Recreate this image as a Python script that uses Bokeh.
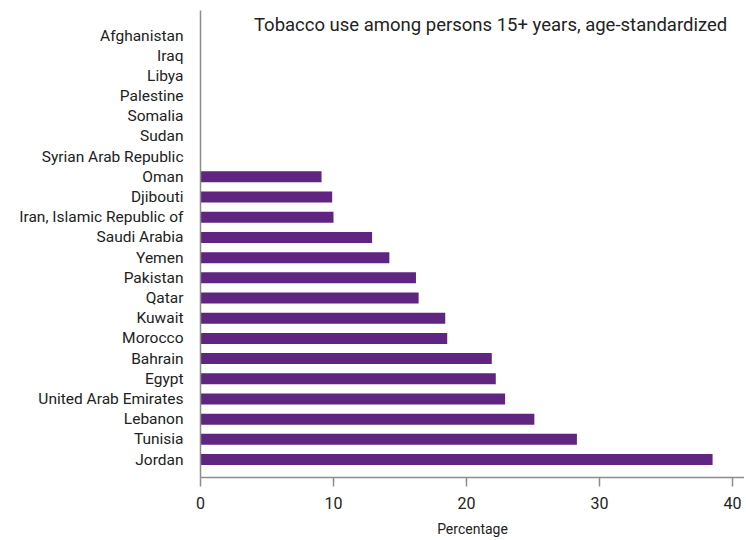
import math
from bokeh.plotting import figure
from bokeh.models import Range1d, FixedTicker, Label, ColumnDataSource
from bokeh.embed import file_html
from bokeh.resources import INLINE

countries = ["Afghanistan", "Iraq", "Libya", "Palestine", "Somalia", "Sudan",
             "Syrian Arab Republic", "Oman", "Djibouti", "Iran, Islamic Republic of",
             "Saudi Arabia", "Yemen", "Pakistan", "Qatar", "Kuwait", "Morocco",
             "Bahrain", "Egypt", "United Arab Emirates", "Lebanon", "Tunisia", "Jordan"]
values = [None, None, None, None, None, None, None,
          9.1, 9.9, 10.0, 12.9, 14.2, 16.2, 16.4, 18.4, 18.55,
          21.9, 22.2, 22.9, 25.1, 28.3, 38.5]
x_ticks = [0, 10, 20, 30, 40]
title_text = "Tobacco use among persons 15+ years, age-standardized"
x_label = "Percentage"

n = len(countries)
pos = [n - 1 - i for i in range(n)]  # top to bottom
bar_pos = [p for p, v in zip(pos, values) if v is not None]
bar_val = [v for v in values if v is not None]

FONT = "Roboto"
TEXT = "#222222"
AXIS = "#8c8c8c"
BAR = "#602580"

p = figure(width=744, height=540, output_backend="svg", toolbar_location=None,
           x_range=Range1d(0, 40.9), y_range=Range1d(-0.89, n - 1 + 1.24),
           min_border_left=200, min_border_right=0, min_border_top=10,
           min_border_bottom=63)
p.outline_line_color = None
p.xgrid.grid_line_color = None
p.ygrid.grid_line_color = None

src = ColumnDataSource(dict(y=bar_pos, right=bar_val))
p.hbar(y="y", right="right", left=0, height=0.545, source=src,
       fill_color=BAR, line_color=None)

# y axis
ya = p.yaxis[0]
ya.ticker = FixedTicker(ticks=pos)
ya.major_label_overrides = {pp: c for pp, c in zip(pos, countries)}
ya.major_tick_line_color = None
ya.minor_tick_line_color = None
ya.axis_line_color = AXIS
ya.axis_line_width = 1.5
ya.major_label_text_font = FONT
ya.major_label_text_font_size = "15.5px"
ya.major_label_text_color = TEXT
ya.major_label_standoff = 11

# x axis
xa = p.xaxis[0]
xa.ticker = FixedTicker(ticks=x_ticks)
xa.axis_line_color = AXIS
xa.axis_line_width = 1.5
xa.major_tick_line_color = AXIS
xa.major_tick_line_width = 1.5
xa.major_tick_in = 0
xa.major_tick_out = 9
xa.minor_tick_line_color = None
xa.major_label_text_font = FONT
xa.major_label_text_font_size = "16px"
xa.major_label_text_color = TEXT
xa.major_label_standoff = 10
xa.axis_label = x_label
xa.axis_label_text_font = FONT
xa.axis_label_text_font_style = "normal"
xa.axis_label_text_font_size = "14px"
xa.axis_label_text_color = TEXT
xa.axis_label_standoff = 9

p.add_layout(Label(x=39.6, y=n - 1 + 0.52, text=title_text, text_align="right",
                   text_baseline="middle", text_font=FONT, text_font_size="18.5px",
                   text_color=TEXT))

open("out.html", "w").write(file_html(p, INLINE))
